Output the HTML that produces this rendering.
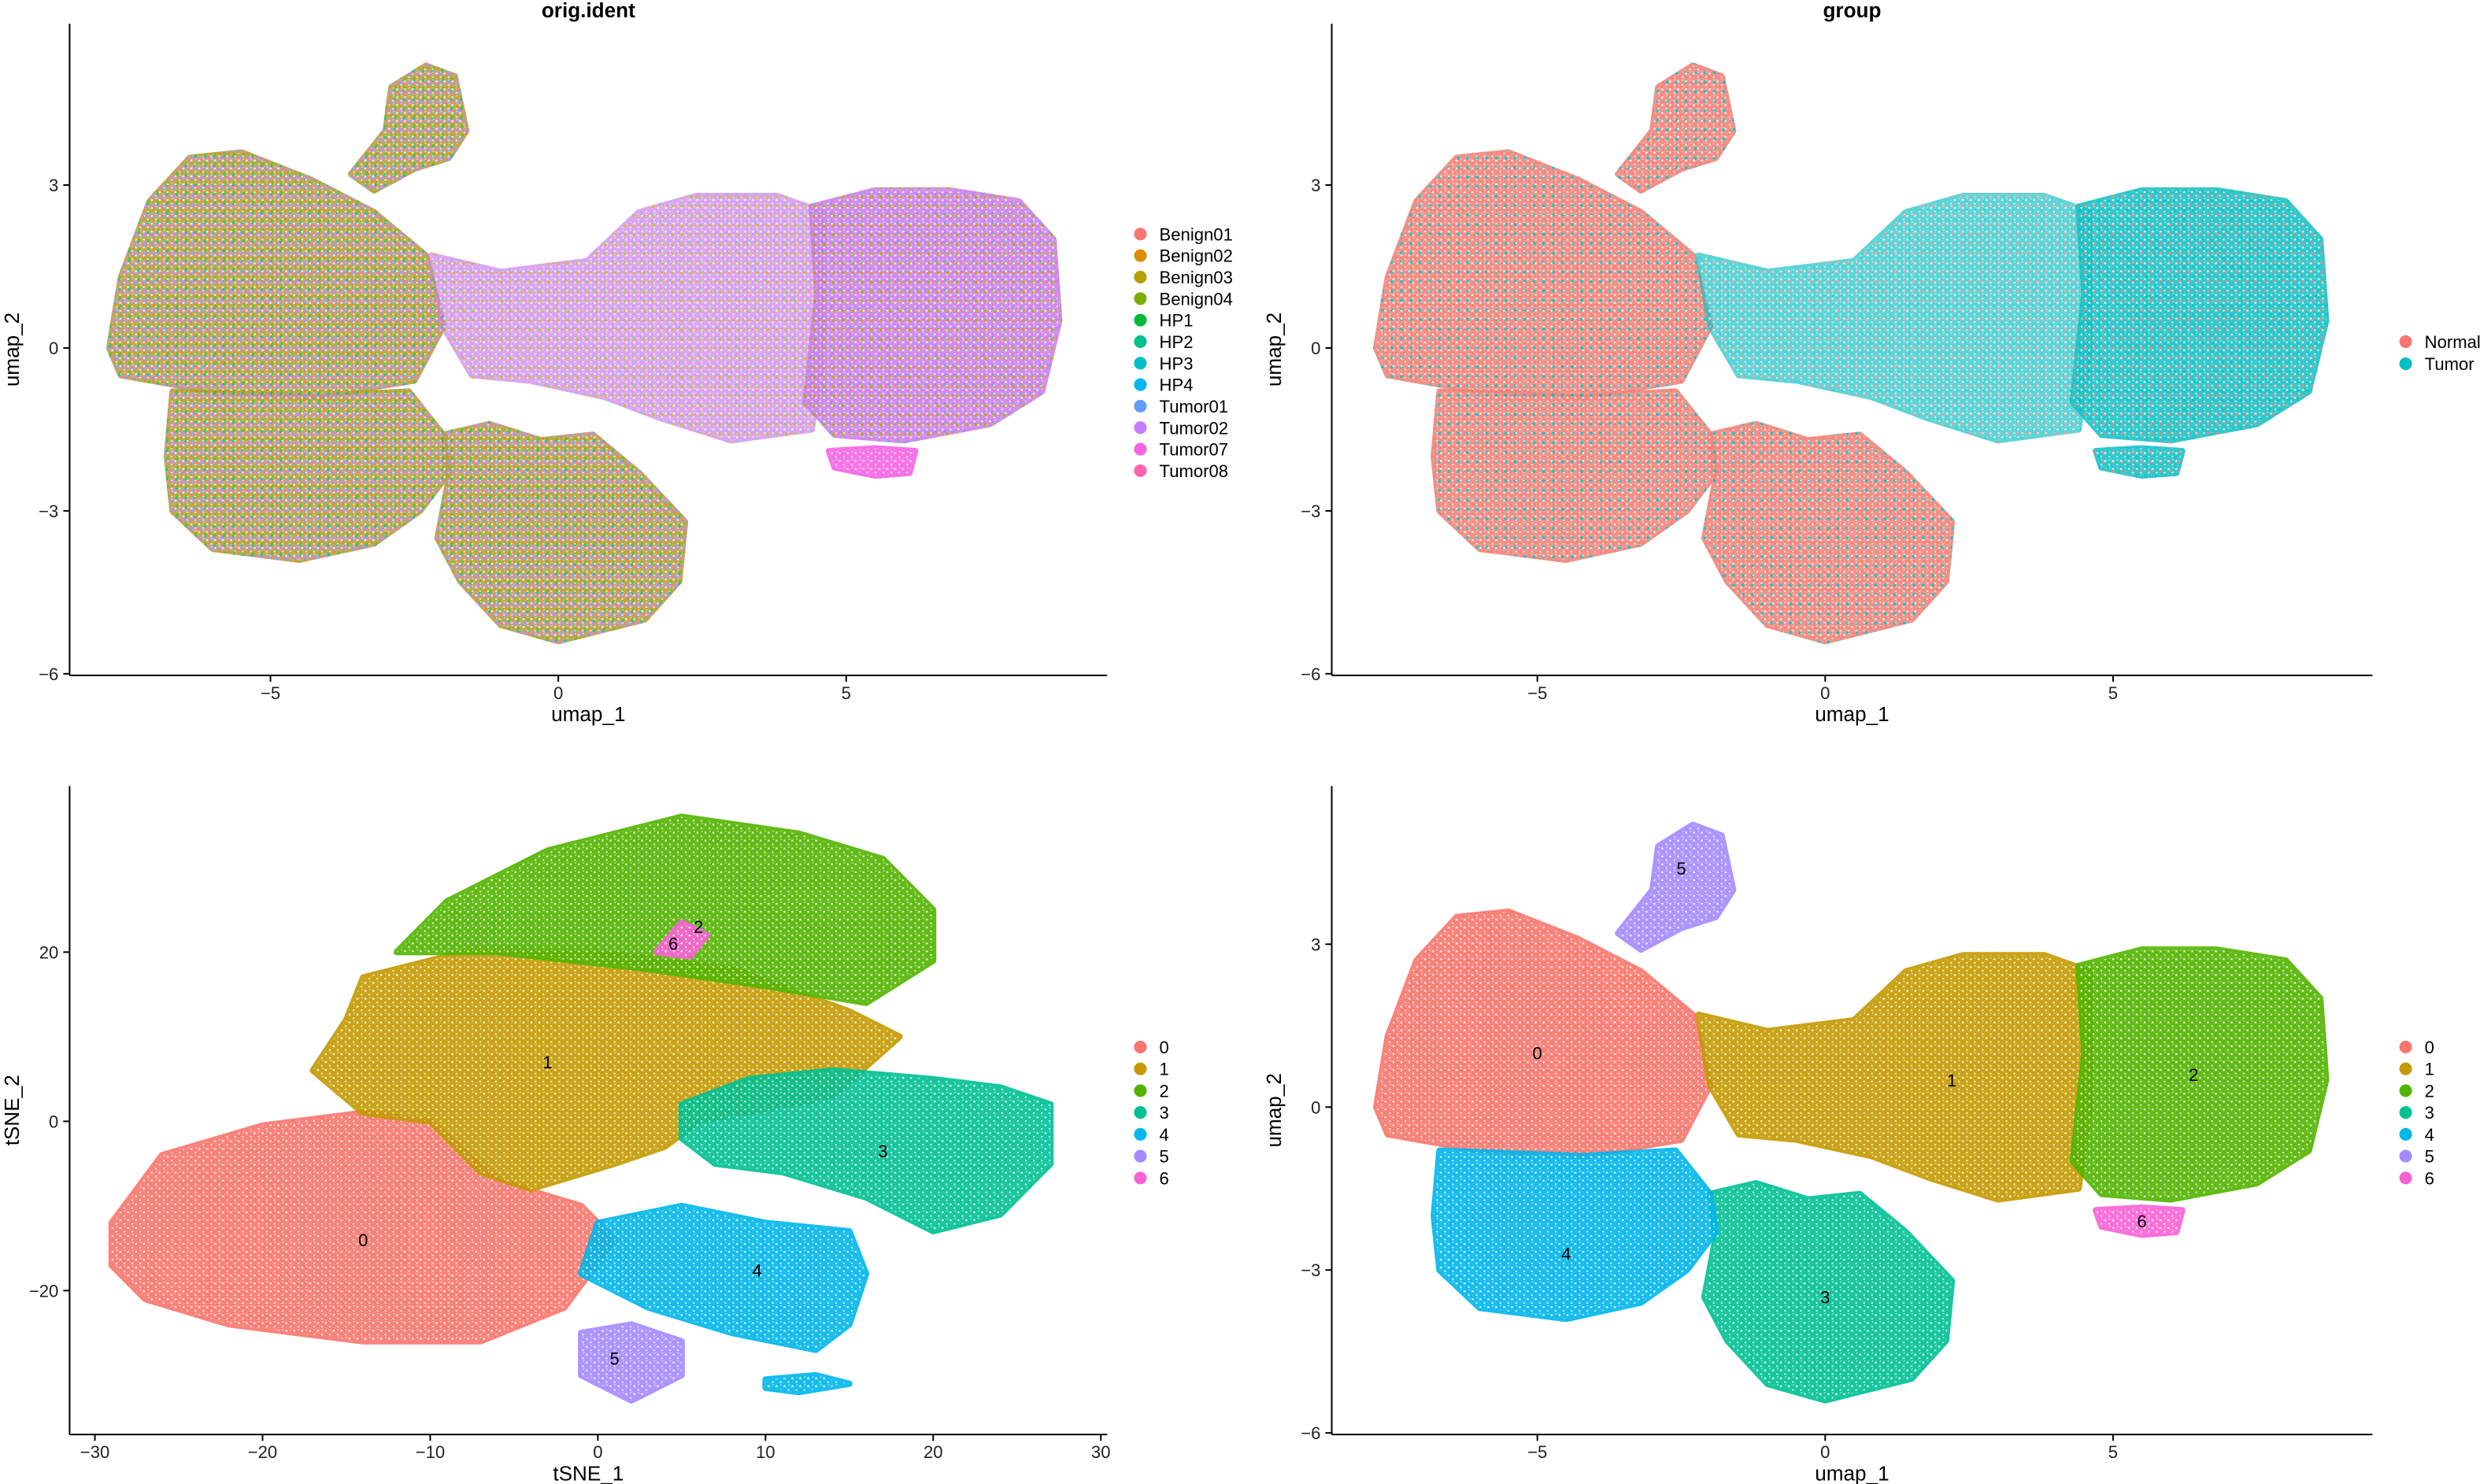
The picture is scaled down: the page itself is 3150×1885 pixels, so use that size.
<!DOCTYPE html>
<html><head><meta charset="utf-8">
<style>
html,body{margin:0;padding:0;background:#fff;}
svg{display:block;font-family:"Liberation Sans",Arial,sans-serif;}
</style></head>
<body>
<svg id="fig" width="3150" height="1885" viewBox="0 0 1568 938.3" preserveAspectRatio="none" xmlns="http://www.w3.org/2000/svg">
<defs>
<pattern id="mixL" width="6" height="6" patternUnits="userSpaceOnUse">
 <rect width="6" height="6" fill="#b3a35a"/>
 <circle cx="1" cy="1" r="1" fill="#DE8C00"/><circle cx="4" cy="1.5" r="1" fill="#7CAE00"/>
 <circle cx="2" cy="4" r="1" fill="#C77CFF"/><circle cx="5" cy="4.5" r="1" fill="#F8766D"/>
 <circle cx="3.5" cy="3" r="0.8" fill="#00C08B"/><circle cx="0.5" cy="5.5" r="0.8" fill="#619CFF"/>
</pattern>
<pattern id="mixR" width="6" height="6" patternUnits="userSpaceOnUse">
 <rect width="6" height="6" fill="#c68ae8"/>
 <circle cx="1" cy="1" r="1" fill="#C77CFF"/><circle cx="4" cy="1.5" r="1" fill="#F564E3"/>
 <circle cx="2" cy="4" r="1" fill="#FF64B0"/><circle cx="5" cy="4.5" r="1" fill="#B79F00"/>
 <circle cx="3.5" cy="3" r="0.8" fill="#619CFF"/>
</pattern>
<pattern id="mixN" width="6" height="6" patternUnits="userSpaceOnUse">
 <rect width="6" height="6" fill="#ee8a80"/>
 <circle cx="1" cy="1" r="1" fill="#F8766D"/><circle cx="4" cy="4" r="1" fill="#00BFC4"/>
 <circle cx="4.5" cy="1" r="0.8" fill="#F8766D"/><circle cx="1.5" cy="4.5" r="0.8" fill="#F8766D"/>
</pattern>
<pattern id="mixT" width="6" height="6" patternUnits="userSpaceOnUse">
 <rect width="6" height="6" fill="#1ec3c6"/>
 <circle cx="1" cy="1" r="1" fill="#00BFC4"/><circle cx="4" cy="4" r="0.8" fill="#F8766D"/>
</pattern>
<pattern id="speck" width="5" height="5" patternUnits="userSpaceOnUse">
 <circle cx="1" cy="1.5" r="0.7" fill="#fff"/><circle cx="3.6" cy="3.8" r="0.6" fill="#fff"/>
 <circle cx="3.9" cy="0.6" r="0.4" fill="#fff"/>
</pattern>
</defs>
</svg>
<script>
// ---------- data ----------
const clusterColors = ["#F8766D","#C49A00","#53B400","#00C094","#00B6EB","#A58AFF","#FB61D7"];
const clusterNames = ["0","1","2","3","4","5","6"];
const sampleNames = ["Benign01","Benign02","Benign03","Benign04","HP1","HP2","HP3","HP4","Tumor01","Tumor02","Tumor07","Tumor08"];
const sampleColors = ["#F8766D","#DE8C00","#B79F00","#7CAE00","#00BA38","#00C08B","#00BFC4","#00B4F0","#619CFF","#C77CFF","#F564E3","#FF64B0"];
const groupNames = ["Normal","Tumor"];
const groupColors = ["#F8766D","#00BFC4"];
const umapXTicks = [-5,0,5];
const umapYTicks = [-6,-3,0,3];
const tsneXTicks = [-30,-20,-10,0,10,20,30];
const tsneYTicks = [-20,0,20];
// UMAP cluster outlines (data units)
const umapClusters = [
 [[-7.8,0],[-7.6,1.3],[-7.1,2.7],[-6.4,3.5],[-5.5,3.6],[-4.3,3.1],[-3.2,2.5],[-2.3,1.7],[-2.0,0.4],[-2.5,-0.6],[-4.2,-0.9],[-6,-0.8],[-7.6,-0.5]],
 [[-2.2,1.7],[-1.0,1.4],[0.5,1.6],[1.4,2.5],[2.4,2.8],[3.8,2.8],[4.6,2.5],[4.6,0],[4.4,-1.5],[3,-1.7],[1.8,-1.3],[0.8,-0.9],[-0.5,-0.6],[-1.5,-0.5],[-2.0,0.4]],
 [[4.4,2.6],[5.5,2.9],[6.8,2.9],[8,2.7],[8.6,2],[8.7,0.5],[8.4,-0.8],[7.5,-1.4],[6,-1.7],[4.8,-1.6],[4.3,-1.0],[4.5,1.0]],
 [[-2.0,-1.6],[-1.2,-1.4],[-0.3,-1.7],[0.6,-1.6],[1.4,-2.3],[2.2,-3.2],[2.1,-4.3],[1.5,-5.0],[0,-5.4],[-1.0,-5.1],[-1.7,-4.3],[-2.1,-3.5],[-1.9,-2.4]],
 [[-6.7,-0.8],[-4.2,-0.9],[-2.6,-0.8],[-2.0,-1.6],[-1.9,-2.3],[-2.4,-3.0],[-3.2,-3.6],[-4.5,-3.9],[-6.0,-3.7],[-6.7,-3.0],[-6.8,-2.0]],
 [[-3.6,3.2],[-3.0,4.0],[-2.9,4.8],[-2.3,5.2],[-1.8,5.0],[-1.6,4.0],[-1.9,3.5],[-2.5,3.3],[-3.2,2.9]],
 [[4.7,-1.9],[5.5,-1.85],[6.2,-1.9],[6.1,-2.3],[5.5,-2.35],[4.8,-2.2]]
];
// tSNE cluster outlines (data units)
const tsneClusters = [
 [[-29,-12],[-26,-4],[-20,-0.5],[-14,1],[-10,0],[-6,-7],[-1,-10],[1,-14],[-2,-22],[-7,-26],[-14,-26],[-22,-24],[-27,-21],[-29,-17]],
 [[-14,17],[-8,20],[0,20],[8,18],[15,13],[18,10],[14,3],[6,0],[4,-3],[1,-5],[-4,-8],[-7,-6],[-10,0],[-14,1],[-17,6],[-15,12]],
 [[-12,20],[-9,26],[-3,32],[5,36],[12,34],[17,31],[20,25],[20,19],[16,14],[10,16],[3,18],[-6,20]],
 [[5,2],[9,5],[14,6],[20,5],[24,4],[27,2],[27,-5],[24,-11],[20,-13],[16,-9],[11,-6],[7,-5],[5,-2]],
 [[0,-12],[5,-10],[10,-12],[15,-13],[16,-18],[15,-24],[13,-27],[8,-25],[3,-22],[-1,-18]],
 [[-1,-25],[2,-24],[5,-26],[5,-30],[2,-33],[-1,-30]],
 [[3.5,20],[5,23.5],[6.5,22],[5.5,19.5]],
 [[10,-30.5],[13,-30],[15,-31],[12,-32],[10,-31.5]]
];
const tsneColorIdx = [0,1,2,3,4,5,6,4];
const umapLabels = [[-5,1],[2.2,0.5],[6.4,0.6],[0,-3.5],[-4.5,-2.7],[-2.5,4.4],[5.5,-2.1]];
const tsneLabels = [[-14,-14],[-3,7],[6,23],[17,-3.5],[9.5,-17.6],[1,-28],[4.5,21]];
const sampleFill = ["url(#mixL)","url(#mixR)","url(#mixR)","url(#mixL)","url(#mixL)","url(#mixL)","#F564E3"];
const groupFill = ["url(#mixN)","url(#mixT)","url(#mixT)","url(#mixN)","url(#mixN)","url(#mixN)","url(#mixT)"];

// ---------- drawing ----------
const NS="http://www.w3.org/2000/svg";
const svg=document.getElementById('fig');
function mk(tag,attrs,parent){const e=document.createElementNS(NS,tag);for(const k in attrs)e.setAttribute(k,attrs[k]);(parent||svg).appendChild(e);return e;}
function lin(d0,d1,p0,p1){return v=>p0+(v-d0)*(p1-p0)/(d1-d0);}

function panel(cfg){
  const g=mk('g',{});
  
  
  const sx=cfg.sx, sy=cfg.sy;
  cfg.shapes.forEach((poly,i)=>{
    const pts=poly.map(p=>sx(p[0]).toFixed(1)+','+sy(p[1]).toFixed(1)).join(' ');
    const op=(cfg.sparse && cfg.sparse(i))?0.7:0.9;
    const pg=mk('polygon',{points:pts,fill:cfg.fill(i),stroke:cfg.fill(i),'stroke-width':4,'stroke-linejoin':'round',opacity:op},g);
    
    
    const sp=mk('polygon',{points:pts,fill:'url(#speck)',opacity:0.75},g);
    
    
  });
  if(cfg.labels){cfg.labels.forEach((p,i)=>{
    const t=mk('text',{x:sx(p[0]),y:sy(p[1])+4,'font-size':11,'text-anchor':'middle',fill:'#000'},g);
    t.textContent=clusterNames[i];
    
    
  });}
  const ax=mk('line',{x1:cfg.x0,y1:cfg.yTop,x2:cfg.x0,y2:cfg.y0,stroke:'#000','stroke-width':1},g);
  
  const ax2=mk('line',{x1:cfg.x0,y1:cfg.y0,x2:cfg.xRight,y2:cfg.y0,stroke:'#000','stroke-width':1},g);
  
  cfg.xt.forEach(v=>{
    const x=sx(v);
    mk('line',{x1:x,y1:cfg.y0,x2:x,y2:cfg.y0+4,stroke:'#000','stroke-width':1},g);
    const t=mk('text',{x:x,y:cfg.y0+15,'font-size':11,'text-anchor':'middle',fill:'#222'},g);
    t.textContent=v<0?'\u2212'+(-v):String(v);
    
  });
  cfg.yt.forEach(v=>{
    const y=sy(v);
    mk('line',{x1:cfg.x0-4,y1:y,x2:cfg.x0,y2:y,stroke:'#000','stroke-width':1},g);
    const t=mk('text',{x:cfg.x0-7,y:y+4,'font-size':11,'text-anchor':'end',fill:'#222'},g);
    t.textContent=v<0?'\u2212'+(-v):String(v);
    
  });
  const xt=mk('text',{x:(cfg.x0+cfg.xRight)/2,y:cfg.y0+29,'font-size':13,'text-anchor':'middle'},g);
  xt.textContent=cfg.xlab;
  const yc=(cfg.yTop+cfg.y0)/2;
  const yt=mk('text',{x:cfg.x0-32,y:yc,'font-size':13,'text-anchor':'middle',transform:`rotate(-90 ${cfg.x0-32} ${yc})`},g);
  yt.textContent=cfg.ylab;
  if(cfg.title){
    const tt=mk('text',{x:(cfg.x0+cfg.xRight)/2,y:11,'font-size':13,'font-weight':'bold','text-anchor':'middle'},g);
    tt.textContent=cfg.title;
  }
  cfg.legNames.forEach((n,i)=>{
    const y=cfg.legY+i*cfg.legStep;
    const c=mk('circle',{cx:cfg.legX,cy:y,r:4,fill:cfg.legColors[i]},g);
    
    const t=mk('text',{x:cfg.legX+12,y:y+4,'font-size':11},g);
    t.textContent=n;
  });
}

const uxTop=lin(0,5,353,535), uyTop=lin(0,3,220,117);
panel({name:'panel-orig-ident',sx:uxTop,sy:uyTop,shapes:umapClusters,fill:i=>sampleFill[i],sparse:i=>i===1,
  x0:44,xRight:700,yTop:15,y0:427,xt:umapXTicks,yt:umapYTicks,xlab:'umap_1',ylab:'umap_2',title:'orig.ident',
  legNames:sampleNames,legColors:sampleColors,legX:721,legY:148,legStep:13.6});
const uxTR=lin(0,5,1154,1336);
panel({name:'panel-group',sx:uxTR,sy:uyTop,shapes:umapClusters,fill:i=>groupFill[i],sparse:i=>i===1,
  x0:842,xRight:1500,yTop:15,y0:427,xt:umapXTicks,yt:umapYTicks,xlab:'umap_1',ylab:'umap_2',title:'group',
  legNames:groupNames,legColors:groupColors,legX:1521,legY:216,legStep:14});
const tx=lin(0,10,378,484), ty=lin(0,20,709,602);
panel({name:'panel-tsne-clusters',sx:tx,sy:ty,shapes:tsneClusters,fill:i=>clusterColors[tsneColorIdx[i]],labels:tsneLabels,
  x0:44,xRight:700,yTop:497,y0:907,xt:tsneXTicks,yt:tsneYTicks,xlab:'tSNE_1',ylab:'tSNE_2',
  legNames:clusterNames,legColors:clusterColors,legX:721,legY:662,legStep:13.8});
const uyB=lin(0,3,700,597);
panel({name:'panel-umap-clusters',sx:uxTR,sy:uyB,shapes:umapClusters,fill:i=>clusterColors[i],labels:umapLabels,
  x0:842,xRight:1500,yTop:497,y0:907,xt:umapXTicks,yt:umapYTicks,xlab:'umap_1',ylab:'umap_2',
  legNames:clusterNames,legColors:clusterColors,legX:1521,legY:662,legStep:13.8});
</script>
</body></html>
